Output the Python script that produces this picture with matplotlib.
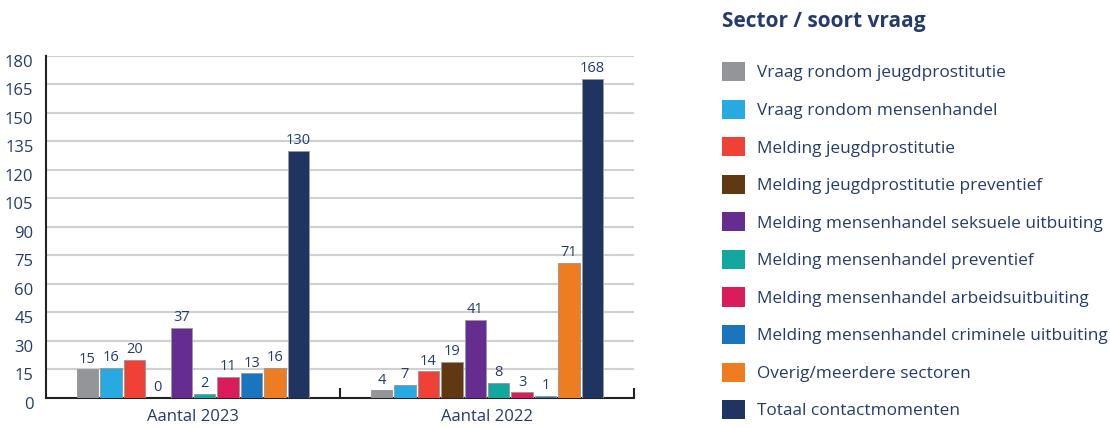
import numpy as np
import matplotlib
matplotlib.use("Agg")
import matplotlib.pyplot as plt
from matplotlib.patches import Patch
from matplotlib.transforms import ScaledTranslation

groups = ["Aantal 2023", "Aantal 2022"]
series = [
    "Vraag rondom jeugdprostitutie",
    "Vraag rondom mensenhandel",
    "Melding jeugdprostitutie",
    "Melding jeugdprostitutie preventief",
    "Melding mensenhandel seksuele uitbuiting",
    "Melding mensenhandel preventief",
    "Melding mensenhandel arbeidsuitbuiting",
    "Melding mensenhandel criminele uitbuiting",
    "Overig/meerdere sectoren",
    "Totaal contactmomenten",
]
values_2023 = [15, 16, 20, 0, 37, 2, 11, 13, 16, 130]
values_2022 = [4, 7, 14, 19, 41, 8, 3, 1, 71, 168]
colors = ["#939598", "#27aae1", "#ef4136", "#603913", "#662d91",
          "#12a89d", "#da1c5c", "#1b75bc", "#ee7d22", "#1f3461"]
yticks = list(range(0, 181, 15))

navy = "#253b6e"
plt.rcParams["font.family"] = ["Open Sans", "DejaVu Sans"]

fig = plt.figure(figsize=(11.1, 4.28), dpi=100)
ax = fig.add_axes([0.0414, 0.0701, 0.5298, 0.7991])

data = np.array([values_2023, values_2022])
x = np.arange(len(groups))
step = 0.0797
width = 0.073
for i, name in enumerate(series):
    pos = x + (i - (len(series) - 1) / 2) * step
    bars = ax.bar(pos, data[:, i], width, color=colors[i], label=name,
                  edgecolor="#9a9a9a", linewidth=0.7, zorder=3)
    ax.bar_label(bars, padding=2, color=navy, fontsize=10.5)

ax.set_xlim(-0.5, 1.5)
ax.set_ylim(0, 180)
ax.set_yticks(yticks)
ax.set_xticks(x)
ax.set_xticklabels(groups)
ax.set_xticks([0.5, 1.5], minor=True)
ax.tick_params(axis="x", which="major", length=0, labelsize=12, labelcolor=navy, pad=8)
ax.tick_params(axis="x", which="minor", direction="in", length=7, width=1.5, color="#222222")
ax.tick_params(axis="y", length=0, labelsize=12, labelcolor=navy, pad=9)
# y labels sit a little below their gridlines in the original
shift = ScaledTranslation(0, -0.05, fig.dpi_scale_trans)
for lab in ax.get_yticklabels():
    lab.set_transform(lab.get_transform() + shift)
for s in ["top", "right"]:
    ax.spines[s].set_visible(False)
for s in ["bottom", "left"]:
    ax.spines[s].set_color("#222222")
    ax.spines[s].set_linewidth(1.5)
ax.yaxis.grid(True, color="#d0d0d0", linewidth=1.5, zorder=0)
ax.set_axisbelow(True)

fig.text(0.6505, 0.9486, "Sector / soort vraag", fontsize=15, fontweight="bold",
         color=navy, ha="left", va="center")

handles = [Patch(facecolor=c, edgecolor="none") for c in colors]
fig.legend(handles, series, loc="upper left", bbox_to_anchor=(0.6505, 0.855),
           frameon=False, fontsize=12.4, labelcolor=navy, handlelength=1.33,
           handleheight=1.33, handletextpad=0.7, labelspacing=1.06,
           borderaxespad=0, borderpad=0)

fig.savefig("out.png", dpi=100)
